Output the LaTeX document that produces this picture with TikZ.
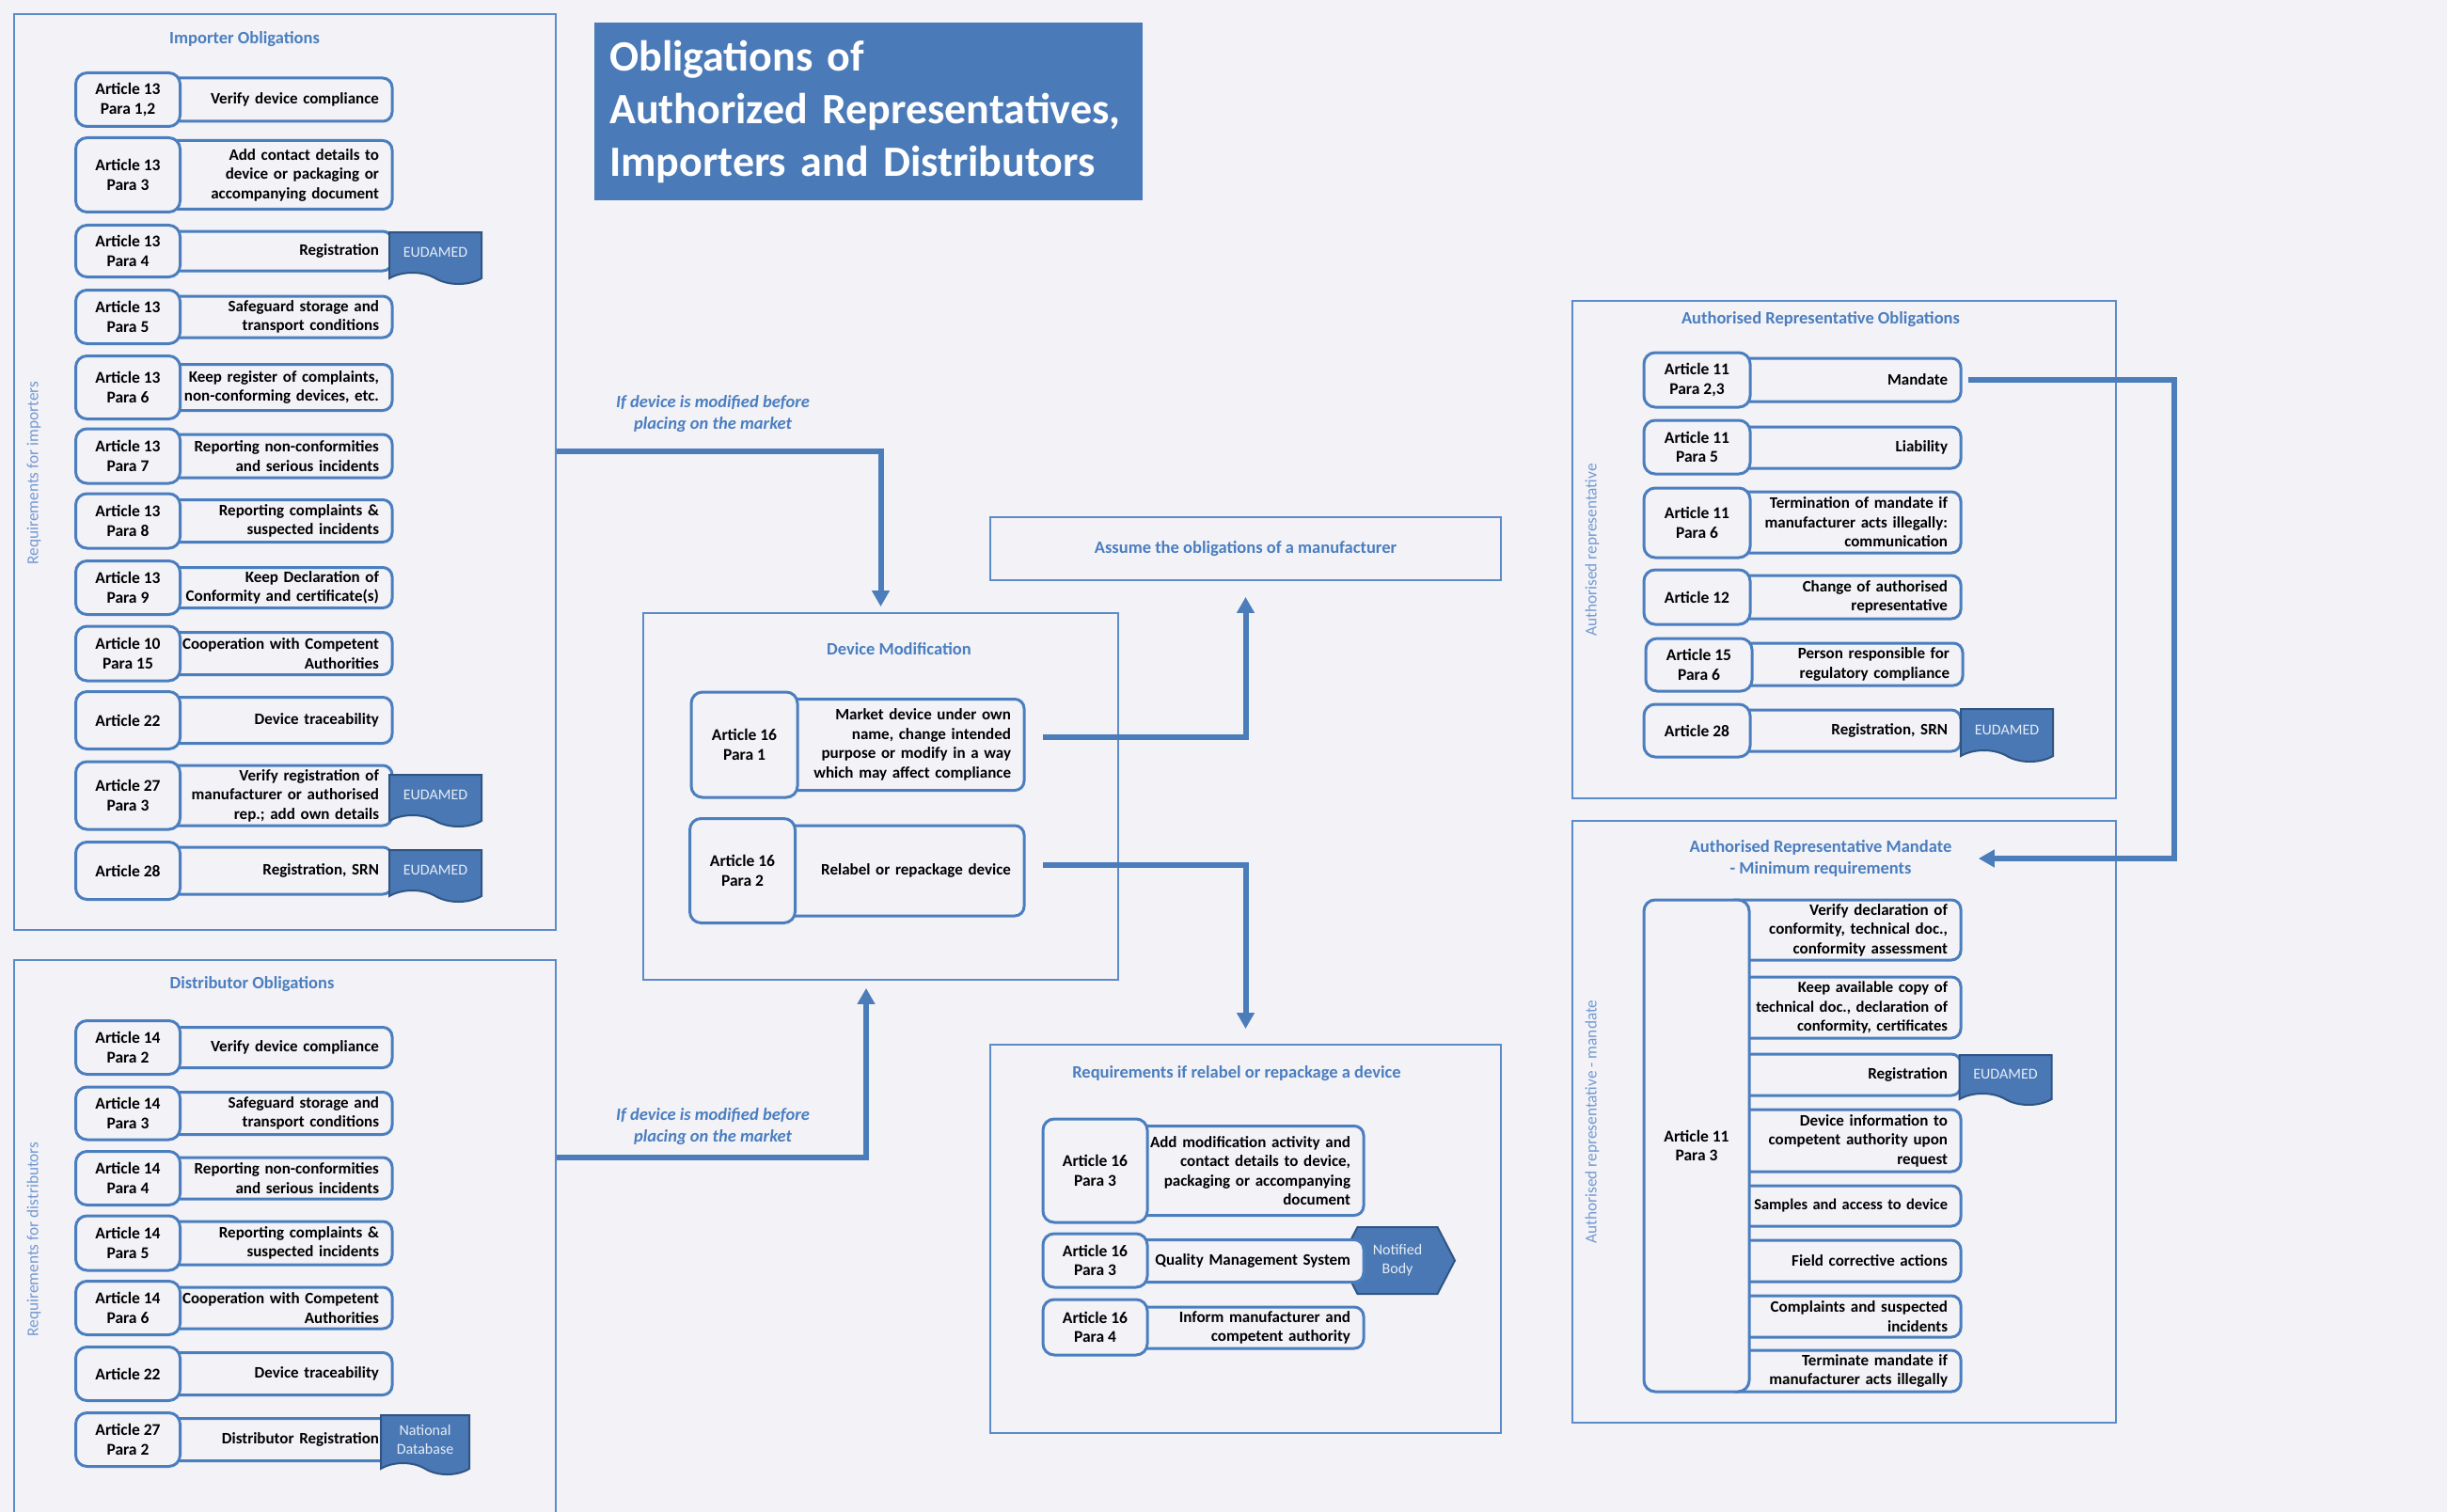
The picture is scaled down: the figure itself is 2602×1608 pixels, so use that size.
\documentclass[tikz,border=0pt]{standalone}
\usepackage{fontspec}
\setmainfont{Carlito}
\usetikzlibrary{arrows.meta,shapes.symbols}
\definecolor{bgcol}{HTML}{F3F2F7}
\definecolor{boxcol}{HTML}{4A7EBF}
\definecolor{frmcol}{HTML}{5D8BC9}
\definecolor{txtblue}{HTML}{4A7EBF}
\definecolor{lightblue}{HTML}{7399D2}
\definecolor{titlecol}{HTML}{4A7AB7}
\definecolor{tagcol}{HTML}{4A78B5}
\definecolor{tagedge}{HTML}{2F5583}
\definecolor{tagtxt}{HTML}{E6ECF6}
\definecolor{arrcol}{HTML}{4A7DBA}
\begin{document}
\begin{tikzpicture}[x=1pt,y=-1pt]
    \tikzset{% This is the style settings for nodes
    art/.style={draw=boxcol, line width=3pt, rounded corners=12pt, fill=bgcol, minimum width=111pt, align=center, inner sep=2pt, font=\fontsize{17.5}{20.5}\selectfont\bfseries},
    duty/.style={draw=boxcol, line width=3pt, rounded corners=10pt, fill=bgcol, align=right, inner xsep=14pt, inner ysep=2pt, font=\fontsize{17}{20.5}\selectfont\bfseries},
    idut/.style={duty, text width=214pt},
    mdut/.style={duty, text width=241pt},
    rdut/.style={duty, text width=227pt},
    adut/.style={duty, text width=222pt},
    frm/.style={draw=frmcol, line width=1.8pt, inner sep=0pt},
    ftitle/.style={text=txtblue, align=center, font=\fontsize{18.5}{23}\selectfont\bfseries},
    vlab/.style={text=lightblue, rotate=90, font=\fontsize{17.3}{19}\selectfont},
    cond/.style={text=txtblue, align=center, font=\fontsize{18.5}{23}\selectfont\bfseries\itshape},
    doc/.style={tape, tape bend top=none, tape bend bottom=out and in, tape bend height=12pt, fill=tagcol, draw=tagedge, line width=2pt, text=tagtxt, minimum width=98pt, minimum height=55pt, inner sep=0pt, align=center, font=\fontsize{16}{20}\selectfont},
    nb/.style={signal, signal to=east and west, signal pointer angle=125, fill=tagcol, draw=tagedge, line width=2pt, text=tagtxt, minimum width=122pt, minimum height=71pt, inner sep=0pt, align=center, font=\fontsize{16}{20}\selectfont},
    flow/.style={draw=arrcol, line width=6pt, -{Triangle[width=18pt,length=17pt]}},
    }
    \useasboundingbox (0,0) rectangle (2602,1608);
    \fill[bgcol] (0,0) rectangle (2602,1608);

    % Frames
    \node[frm, minimum width=576pt, minimum height=974pt] (impframe) at (303,502) {};
    \node[frm, minimum width=576pt, minimum height=619pt] (distframe) at (303,1330.5) {};
    \node[frm, minimum width=505pt, minimum height=390pt] (devframe) at (936.5,847) {};
    \node[frm, minimum width=543pt, minimum height=67pt, text=txtblue, font=\fontsize{18.5}{20}\selectfont\bfseries] (assume) at (1324.5,583.5) {Assume the obligations of a manufacturer};
    \node[frm, minimum width=543pt, minimum height=413pt] (reqframe) at (1324.5,1317.5) {};
    \node[frm, minimum width=578pt, minimum height=529pt] (arframe) at (1961,584.5) {};
    \node[frm, minimum width=578pt, minimum height=640pt] (mandframe) at (1961,1193) {};

    % Title
    \node[fill=titlecol, text=white, anchor=north west, minimum width=583pt, minimum height=189pt, text width=551pt, inner xsep=16pt, align=left, font=\fontsize{46}{56}\selectfont\bfseries] (title) at (632,24) {Obligations of\\Authorized Representatives,\\Importers and Distributors};

    % Frame titles
    \node[ftitle] (imptitle) at (260,42) {Importer Obligations};
    \node[ftitle] (disttitle) at (268,1047) {Distributor Obligations};
    \node[ftitle] (devtitle) at (956,690) {Device Modification};
    \node[ftitle] (reqtitle) at (1315,1142) {Requirements if relabel or repackage a device};
    \node[ftitle] (artitle) at (1936,340) {Authorised Representative Obligations};
    \node[ftitle] (mandtitle) at (1936,913) {Authorised Representative Mandate\\- Minimum requirements};
    \node[vlab] (implab) at (36,503) {Requirements for importers};
    \node[vlab] (distlab) at (36,1318) {Requirements for distributors};
    \node[vlab] (arlab) at (1693,585) {Authorised representative};
    \node[vlab] (mandlab) at (1693,1193) {Authorised representative - mandate};
    \node[cond] (cond1) at (758,440) {If device is modified before\\placing on the market};
    \node[cond] (cond2) at (758,1198) {If device is modified before\\placing on the market};

    % Importer rows
    \node[idut, minimum height=46pt] (i1d) at (296,106) {Verify device compliance};
    \node[art, minimum height=57pt] (i1a) at (136,106) {Article 13\\Para 1,2};
    \node[idut, minimum height=73pt] (i2d) at (296,186) {Add contact details to\\device or packaging or\\accompanying document};
    \node[art, minimum height=79pt] (i2a) at (136,186) {Article 13\\Para 3};
    \node[idut, minimum height=42pt] (i3d) at (296,267) {Registration};
    \node[art, minimum height=55pt] (i3a) at (136,267) {Article 13\\Para 4};
    \node[doc] (i3t) at (463,268.5) {EUDAMED};
    \node[idut, minimum height=44pt] (i4d) at (296,337) {Safeguard storage and\\transport conditions};
    \node[art, minimum height=57pt] (i4a) at (136,337) {Article 13\\Para 5};
    \node[idut, minimum height=49pt] (i5d) at (296,412) {Keep register of complaints,\\non-conforming devices, etc.};
    \node[art, minimum height=67pt] (i5a) at (136,412) {Article 13\\Para 6};
    \node[idut, minimum height=46pt] (i6d) at (296,485) {Reporting non-conformities\\and serious incidents};
    \node[art, minimum height=58pt] (i6a) at (136,485) {Article 13\\Para 7};
    \node[idut, minimum height=45pt] (i7d) at (296,554) {Reporting complaints \&\\suspected incidents};
    \node[art, minimum height=58pt] (i7a) at (136,554) {Article 13\\Para 8};
    \node[idut, minimum height=43pt] (i8d) at (296,625) {Keep Declaration of\\Conformity and certificate(s)};
    \node[art, minimum height=57pt] (i8a) at (136,625) {Article 13\\Para 9};
    \node[idut, minimum height=45pt] (i9d) at (296,695) {Cooperation with Competent\\Authorities};
    \node[art, minimum height=58pt] (i9a) at (136,695) {Article 10\\Para 15};
    \node[idut, minimum height=49pt] (i10d) at (296,766) {Device traceability};
    \node[art, minimum height=61pt] (i10a) at (136,766) {Article 22};
    \node[idut, minimum height=64pt] (i11d) at (296,846) {Verify registration of\\manufacturer or authorised\\rep.; add own details};
    \node[art, minimum height=72pt] (i11a) at (136,846) {Article 27\\Para 3};
    \node[doc] (i11t) at (463,845.5) {EUDAMED};
    \node[idut, minimum height=50pt] (i12d) at (296,926) {Registration, SRN};
    \node[art, minimum height=61pt] (i12a) at (136,926) {Article 28};
    \node[doc] (i12t) at (463,925.5) {EUDAMED};

    % Distributor rows
    \node[idut, minimum height=43pt] (d1d) at (296,1114) {Verify device compliance};
    \node[art, minimum height=57pt] (d1a) at (136,1114) {Article 14\\Para 2};
    \node[idut, minimum height=45pt] (d2d) at (296,1184) {Safeguard storage and\\transport conditions};
    \node[art, minimum height=56pt] (d2a) at (136,1184) {Article 14\\Para 3};
    \node[idut, minimum height=44pt] (d3d) at (296,1253) {Reporting non-conformities\\and serious incidents};
    \node[art, minimum height=57pt] (d3a) at (136,1253) {Article 14\\Para 4};
    \node[idut, minimum height=46pt] (d4d) at (296,1322) {Reporting complaints \&\\suspected incidents};
    \node[art, minimum height=58pt] (d4a) at (136,1322) {Article 14\\Para 5};
    \node[idut, minimum height=44pt] (d5d) at (296,1391) {Cooperation with Competent\\Authorities};
    \node[art, minimum height=57pt] (d5a) at (136,1391) {Article 14\\Para 6};
    \node[idut, minimum height=45pt] (d6d) at (296,1461) {Device traceability};
    \node[art, minimum height=57pt] (d6a) at (136,1461) {Article 22};
    \node[idut, minimum height=45pt] (d7d) at (296,1531) {Distributor Registration};
    \node[art, minimum height=57pt] (d7a) at (136,1531) {Article 27\\Para 2};
    \node[doc, minimum width=94pt, minimum height=63pt] (d7t) at (452,1530.5) {National\\Database};

    % Device modification rows
    \node[mdut, minimum height=97pt] (m1d) at (954.5,792) {Market device under own\\name, change intended\\purpose or modify in a way\\which may affect compliance};
    \node[art, minimum width=113pt, minimum height=112pt] (m1a) at (791.5,792) {Article 16\\Para 1};
    \node[mdut, minimum height=96pt] (m2d) at (954.5,926) {Relabel or repackage device};
    \node[art, minimum width=112pt, minimum height=111pt] (m2a) at (789.5,926) {Article 16\\Para 2};

    % Relabel / repackage rows
    \node[rdut, minimum height=95pt] (r1d) at (1322.5,1245) {Add modification activity and\\contact details to device,\\packaging or accompanying\\document};
    \node[art, minimum height=110pt] (r1a) at (1164.5,1245) {Article 16\\Para 3};
    \node[nb] (r2t) at (1486,1340.5) {Notified\\Body};
    \node[rdut, minimum height=45pt] (r2d) at (1322.5,1341) {Quality Management System};
    \node[art, minimum height=57pt] (r2a) at (1164.5,1340.5) {Article 16\\Para 3};
    \node[rdut, minimum height=44pt] (r3d) at (1322.5,1412) {Inform manufacturer and\\competent authority};
    \node[art, minimum height=59pt] (r3a) at (1164.5,1411.5) {Article 16\\Para 4};

    % Authorised representative rows
    \node[adut, minimum height=46pt] (a1d) at (1960,404) {Mandate};
    \node[art, minimum width=113pt, minimum height=58pt] (a1a) at (1804.5,404) {Article 11\\Para 2,3};
    \node[adut, minimum height=44pt] (a2d) at (1960,476) {Liability};
    \node[art, minimum width=113pt, minimum height=57pt] (a2a) at (1804.5,475.5) {Article 11\\Para 5};
    \node[adut, minimum height=65pt] (a3d) at (1960,555.5) {Termination of mandate if\\manufacturer acts illegally:\\communication};
    \node[art, minimum width=113pt, minimum height=74pt] (a3a) at (1804.5,556) {Article 11\\Para 6};
    \node[adut, minimum height=46pt] (a4d) at (1960,635) {Change of authorised\\representative};
    \node[art, minimum width=113pt, minimum height=58pt] (a4a) at (1804.5,635) {Article 12};
    \node[adut, minimum height=45pt] (a5d) at (1962,706.5) {Person responsible for\\regulatory compliance};
    \node[art, minimum width=113pt, minimum height=56pt] (a5a) at (1806.5,707) {Article 15\\Para 6};
    \node[adut, minimum height=44pt] (a6d) at (1960,777) {Registration, SRN};
    \node[art, minimum width=113pt, minimum height=56pt] (a6a) at (1804.5,777) {Article 28};
    \node[doc, minimum height=56pt] (a6t) at (2134,776) {EUDAMED};

    % Mandate rows
    \node[adut, minimum height=64pt] (b1d) at (1960,989) {Verify declaration of\\conformity, technical doc.,\\conformity assessment};
    \node[adut, minimum height=65pt, font=\fontsize{16.6}{20.5}\selectfont\bfseries] (b2d) at (1960,1071.5) {Keep available copy of\\technical doc., declaration of\\conformity, certificates};
    \node[adut, minimum height=44pt] (b3d) at (1960,1143) {Registration};
    \node[doc, minimum height=53pt] (b3t) at (2132.5,1142.5) {EUDAMED};
    \node[adut, minimum height=66pt] (b4d) at (1960,1213) {Device information to\\competent authority upon\\request};
    \node[adut, minimum height=43pt, font=\fontsize{16.4}{20.5}\selectfont\bfseries] (b5d) at (1960,1282.5) {Samples and access to device};
    \node[adut, minimum height=44pt] (b6d) at (1960,1341) {Field corrective actions};
    \node[adut, minimum height=44pt] (b7d) at (1960,1400) {Complaints and suspected\\incidents};
    \node[adut, minimum height=44pt] (b8d) at (1960,1458) {Terminate mandate if\\manufacturer acts illegally};
    \node[art, minimum width=112pt, minimum height=523pt] (b0a) at (1804,1218.5) {Article 11\\Para 3};

    % Connectors
    \coordinate (mandbend) at (2312,404);
    \draw[flow, shorten >=6pt] (impframe.east |- 0,480) -| (devframe.north);
    \draw[flow, shorten >=8pt] (distframe.east |- 0,1231) -| ([xshift=-15.5pt]devframe.south);
    \draw[flow, shorten <=18pt, shorten >=17pt] ([yshift=8pt]m1d.east) -| (assume.south);
    \draw[flow, shorten <=18pt, shorten >=16pt] ([yshift=6pt]m2d.east) -| (reqframe.north);
    \draw[flow, shorten <=6pt, shorten >=25pt] (a1d.east) -- (mandbend) |- (mandtitle.east);

\end{tikzpicture}
\end{document}
